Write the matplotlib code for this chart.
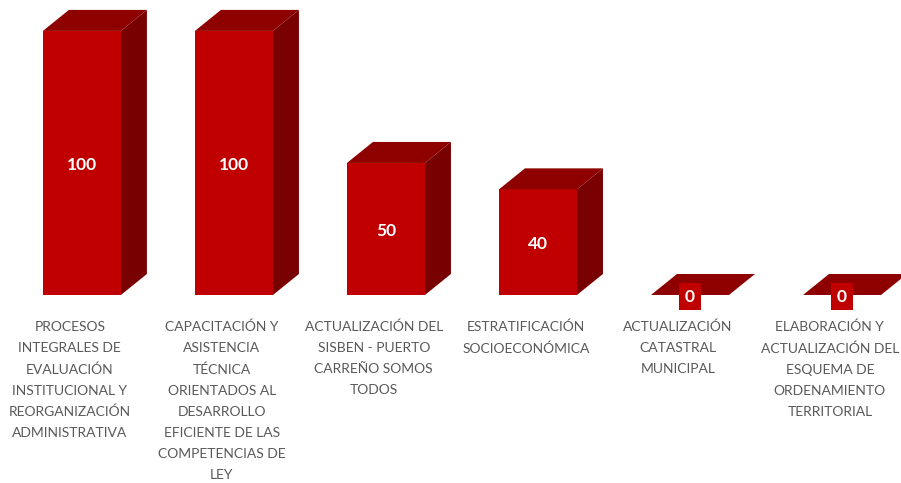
import matplotlib.pyplot as plt
from matplotlib.patches import Polygon

# chart data
categories = [
    "PROCESOS\nINTEGRALES DE\nEVALUACIÓN\nINSTITUCIONAL Y\nREORGANIZACIÓN\nADMINISTRATIVA",
    "CAPACITACIÓN Y\nASISTENCIA\nTÉCNICA\nORIENTADOS AL\nDESARROLLO\nEFICIENTE DE LAS\nCOMPETENCIAS DE\nLEY",
    "ACTUALIZACIÓN DEL\nSISBEN - PUERTO\nCARREÑO SOMOS\nTODOS",
    "ESTRATIFICACIÓN\nSOCIOECONÓMICA",
    "ACTUALIZACIÓN\nCATASTRAL\nMUNICIPAL",
    "ELABORACIÓN Y\nACTUALIZACIÓN DEL\nESQUEMA DE\nORDENAMIENTO\nTERRITORIAL",
]
values = [100, 100, 50, 40, 0, 0]

FRONT = '#C00000'
TOP = '#8E0000'
SIDE = '#790000'
LABEL = '#595959'

bar_width = 0.513
dx, dy = 0.171, 7.95   # fake 3D depth

plt.rcParams['font.family'] = ['Lato', 'DejaVu Sans']

fig = plt.figure(figsize=(9.01, 4.83), dpi=100)
ax = fig.add_axes([0, 0, 1, 1])
ax.set_xlim(-0.539, 5.388)
ax.set_ylim(-71.2, 111.7)
ax.axis('off')

x = list(range(len(values)))
bars = ax.bar(x, values, width=bar_width, color=FRONT, zorder=2)

for rect in bars:
    x0 = rect.get_x()
    x1 = x0 + rect.get_width()
    h = rect.get_height()
    side = Polygon([(x1, 0), (x1 + dx, dy), (x1 + dx, h + dy), (x1, h)],
                   closed=True, facecolor=SIDE, edgecolor='none', zorder=1)
    top = Polygon([(x0, h), (x1, h), (x1 + dx, h + dy), (x0 + dx, h + dy)],
                  closed=True, facecolor=TOP, edgecolor='none', zorder=3)
    ax.add_patch(side)
    ax.add_patch(top)

# value labels
for xi, v in zip(x, values):
    ax.text(xi, v / 2 - 0.6, str(v), ha='center', va='center', color='white',
            fontsize=12.5, fontweight='bold', zorder=5,
            bbox=dict(facecolor=FRONT, edgecolor='none', pad=4))

# category labels
for xi, lab in zip(x, categories):
    ax.text(xi - 0.08, -9.8, lab, ha='center', va='top', color=LABEL,
            fontsize=10, linespacing=1.89)

plt.savefig('out.png', dpi=100)
plt.close()
